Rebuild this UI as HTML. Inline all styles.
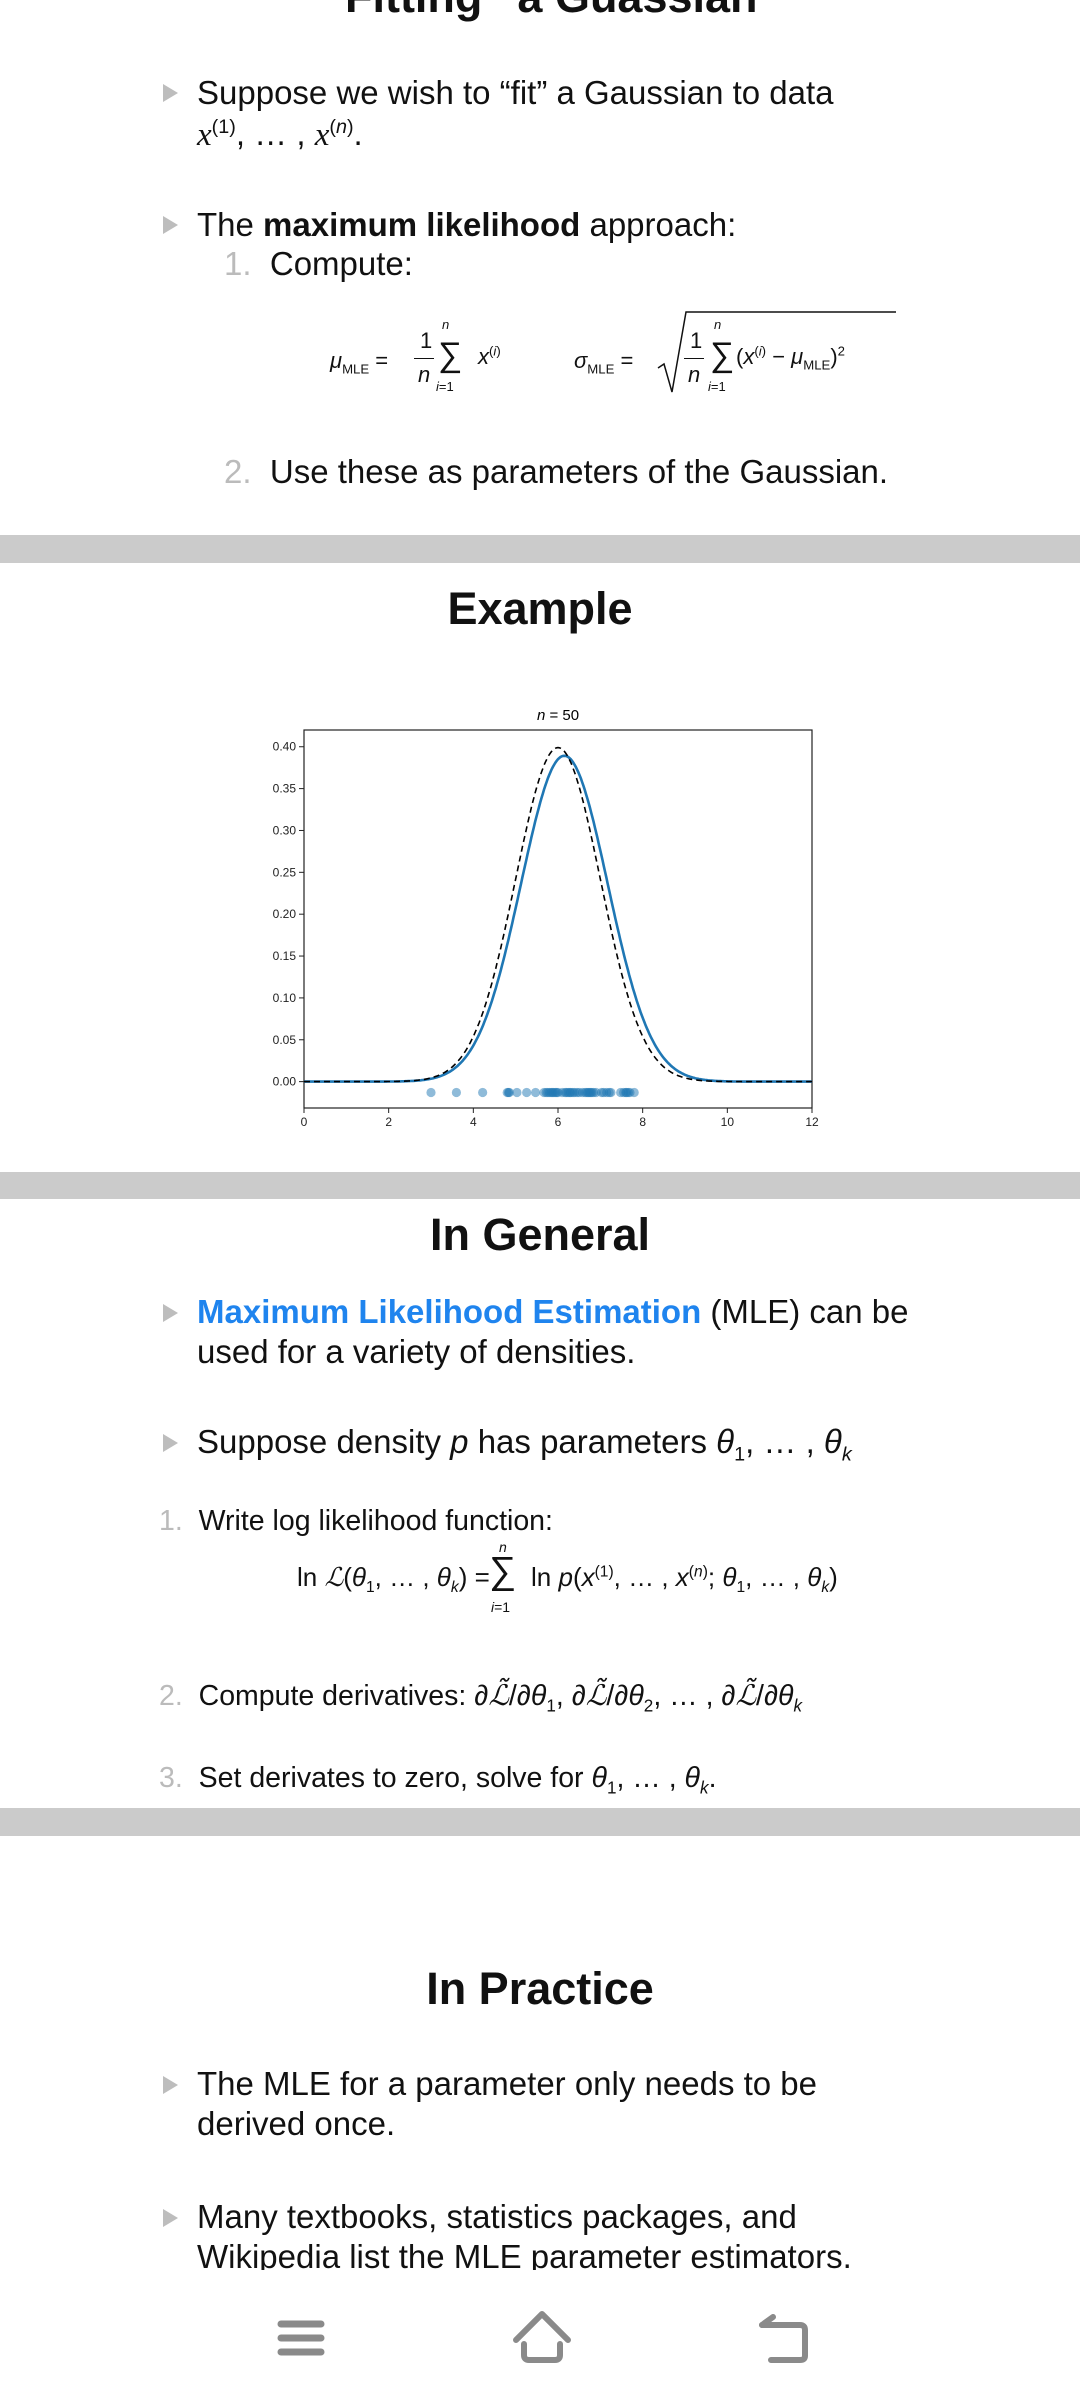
<!DOCTYPE html>
<html><head><meta charset="utf-8">
<style>
html,body{margin:0;padding:0;background:#fff;}
body{width:1080px;height:2400px;position:relative;overflow:hidden;font-family:"Liberation Sans",sans-serif;color:#111;}
.t{position:absolute;white-space:nowrap;line-height:1;}
.b{font-size:33px;}
.s{font-size:28.5px;}
.tri{position:absolute;width:0;height:0;border-top:9px solid transparent;border-bottom:9px solid transparent;border-left:15px solid #bdbdbd;}
.num{color:#bbb;}
.band{position:absolute;left:0;width:1080px;background:#cbcbcb;}
.h{font-weight:bold;font-size:45px;left:0;width:1080px;text-align:center;}
.m{font-family:"Liberation Serif",serif;font-style:italic;}
sup,sub{font-size:60%;line-height:0;}
</style></head><body>

<div class="t h" style="top:-26px;">“Fitting” a Guassian</div>

<div class="tri" style="left:163px;top:84px;"></div>
<div class="t b" style="left:197px;top:76px;">Suppose we wish to “fit” a Gaussian to data</div>
<div class="t b" style="left:197px;top:117px;"><span class="m">x</span><sup>(1)</sup>, … , <span class="m">x</span><sup>(<i>n</i>)</sup>.</div>

<div class="tri" style="left:163px;top:216px;"></div>
<div class="t b" style="left:197px;top:208px;">The <b>maximum likelihood</b> approach:</div>
<div class="t b" style="left:224px;top:247px;"><span class="num">1.</span>&nbsp; Compute:</div>

<div class="t" style="left:330px;top:320px;font-size:22px;height:90px;">
 <span style="position:absolute;left:0;top:30px;"><i>μ</i><sub>MLE</sub> = </span>
 <span style="position:absolute;left:90px;top:10px;">1</span>
 <span style="position:absolute;left:84px;top:38px;width:20px;border-top:1.5px solid #111;"></span>
 <span style="position:absolute;left:88px;top:44px;"><i>n</i></span>
 <span style="position:absolute;left:112px;top:-2px;font-size:13px;"><i>n</i></span>
 <span style="position:absolute;left:108px;top:18px;font-size:34px;">∑</span>
 <span style="position:absolute;left:106px;top:60px;font-size:13px;"><i>i</i>=1</span>
 <span style="position:absolute;left:148px;top:26px;"><i>x</i><sup>(<i>i</i>)</sup></span>
</div>
<div class="t" style="left:574px;top:320px;font-size:22px;height:90px;">
 <span style="position:absolute;left:0;top:30px;"><i>σ</i><sub>MLE</sub> = </span>
 <svg style="position:absolute;left:82px;top:-12px;" width="240" height="90"><path d="M2 60 L8 56 L16 84 L30 4 L240 4" fill="none" stroke="#111" stroke-width="1.5"/></svg>
 <span style="position:absolute;left:116px;top:10px;">1</span>
 <span style="position:absolute;left:110px;top:38px;width:20px;border-top:1.5px solid #111;"></span>
 <span style="position:absolute;left:114px;top:44px;"><i>n</i></span>
 <span style="position:absolute;left:140px;top:-2px;font-size:13px;"><i>n</i></span>
 <span style="position:absolute;left:136px;top:18px;font-size:34px;">∑</span>
 <span style="position:absolute;left:134px;top:60px;font-size:13px;"><i>i</i>=1</span>
 <span style="position:absolute;left:162px;top:26px;">(<i>x</i><sup>(<i>i</i>)</sup> − <i>μ</i><sub>MLE</sub>)<sup>2</sup></span>
</div>

<div class="t b" style="left:224px;top:455px;"><span class="num">2.</span>&nbsp; Use these as parameters of the Gaussian.</div>

<div class="band" style="top:535px;height:28px;"></div>

<div class="t h" style="top:586px;">Example</div>

<svg id="chart" style="position:absolute;left:0;top:0;" width="1080" height="1160"></svg>

<div class="band" style="top:1172px;height:27px;"></div>

<div class="t h" style="top:1212px;">In General</div>

<div class="tri" style="left:163px;top:1304px;"></div>
<div class="t b" style="left:197px;top:1295px;"><b style="color:#1f84ee;">Maximum Likelihood Estimation</b> (MLE) can be</div>
<div class="t b" style="left:197px;top:1335px;">used for a variety of densities.</div>

<div class="tri" style="left:163px;top:1434px;"></div>
<div class="t b" style="left:197px;top:1425px;">Suppose density <i>p</i> has parameters <i>θ</i><sub>1</sub>, … , <i>θ</i><sub><i>k</i></sub></div>

<div class="t s" style="left:159px;top:1507px;"><span class="num">1.</span>&nbsp; Write log likelihood function:</div>
<div class="t" style="left:297px;top:1540px;font-size:26px;height:80px;">
 <span style="position:absolute;left:0;top:24px;">ln <i>ℒ</i>(<i>θ</i><sub>1</sub>, … , <i>θ</i><sub><i>k</i></sub>) =</span>
 <span style="position:absolute;left:202px;top:0px;font-size:14px;"><i>n</i></span>
 <span style="position:absolute;left:192px;top:12px;font-size:38px;">∑</span>
 <span style="position:absolute;left:194px;top:60px;font-size:14px;"><i>i</i>=1</span>
 <span style="position:absolute;left:234px;top:24px;">ln <i>p</i>(<i>x</i><sup>(1)</sup>, … , <i>x</i><sup>(<i>n</i>)</sup>; <i>θ</i><sub>1</sub>, … , <i>θ</i><sub><i>k</i></sub>)</span>
</div>
<div class="t s" style="left:159px;top:1682px;"><span class="num">2.</span>&nbsp; Compute derivatives: ∂<i>ℒ̃</i>/∂<i>θ</i><sub>1</sub>, ∂<i>ℒ̃</i>/∂<i>θ</i><sub>2</sub>, … , ∂<i>ℒ̃</i>/∂<i>θ</i><sub><i>k</i></sub></div>
<div class="t s" style="left:159px;top:1764px;"><span class="num">3.</span>&nbsp; Set derivates to zero, solve for <i>θ</i><sub>1</sub>, … , <i>θ</i><sub><i>k</i></sub>.</div>

<div class="band" style="top:1808px;height:28px;"></div>

<div class="t h" style="top:1966px;">In Practice</div>

<div class="tri" style="left:163px;top:2076px;"></div>
<div class="t b" style="left:197px;top:2067px;">The MLE for a parameter only needs to be</div>
<div class="t b" style="left:197px;top:2107px;">derived once.</div>

<div class="tri" style="left:163px;top:2209px;"></div>
<div class="t b" style="left:197px;top:2200px;">Many textbooks, statistics packages, and</div>
<div class="t b" style="left:197px;top:2240px;">Wikipedia list the MLE parameter estimators.</div>

<div style="position:absolute;left:0;top:2270px;width:1080px;height:130px;background:#fff;"></div>
<svg style="position:absolute;left:0;top:2290px;" width="1080" height="90">
 <g stroke="#8a8a8a" stroke-width="7" stroke-linecap="round" fill="none">
  <line x1="281" y1="34" x2="321" y2="34"/><line x1="281" y1="48" x2="321" y2="48"/><line x1="281" y1="62" x2="321" y2="62"/>
 </g>
 <g stroke="#8a8a8a" stroke-width="6" stroke-linecap="round" stroke-linejoin="round" fill="none">
  <path d="M516 50 L542 24 L568 50"/><path d="M524 54 L524 65 Q524 70 529 70 L555 70 Q560 70 560 65 L560 54"/>
 </g>
 <g stroke="#8a8a8a" stroke-width="6" stroke-linecap="round" stroke-linejoin="round" fill="none">
  <path d="M762 35 L800 35 Q805 35 805 40 L805 66 Q805 70 800 70 L771 70"/><path d="M773 27 L762 35"/>
 </g>
</svg>

<script>
const xTicks=[0,2,4,6,8,10,12];
const yTicks=[0.00,0.05,0.10,0.15,0.20,0.25,0.30,0.35,0.40];
const yTickLabels=["0.00","0.05","0.10","0.15","0.20","0.25","0.30","0.35","0.40"];
const fitMean=[6.15];
const fitSigma=[1.025];
const trueMean=[6.0];
const trueSigma=[1.0];
const samples=[3.0,3.6,4.22,4.8,4.83,4.85,5.03,5.26,5.47,5.67,5.72,5.76,5.8,5.84,5.87,5.9,5.94,5.97,6.0,6.17,6.2,6.24,6.28,6.3,6.35,6.39,6.45,6.5,6.58,6.64,6.68,6.71,6.74,6.77,6.8,6.84,7.03,7.08,7.15,7.21,7.25,7.48,7.55,7.6,7.62,7.66,7.7,7.8,6.9,6.1];
const X0=304,X1=812,YT=730,YB=1108;
const xMin=0,xMax=12,yMin=-0.0315,yMax=0.42;
const sx=v=>X0+(v-xMin)/(xMax-xMin)*(X1-X0);
const sy=v=>YB-(v-yMin)/(yMax-yMin)*(YB-YT);
const NS='http://www.w3.org/2000/svg';
const svg=document.getElementById('chart');
function mk(tag,attrs){const e=document.createElementNS(NS,tag);for(const k in attrs)e.setAttribute(k,attrs[k]);svg.appendChild(e);return e;}
function gauss(x,m,s){return Math.exp(-0.5*((x-m)/s)**2)/(s*Math.sqrt(2*Math.PI));}
function curve(m,s){let d='';for(let i=0;i<=400;i++){const x=xMin+(xMax-xMin)*i/400;d+=(i?'L':'M')+sx(x).toFixed(1)+' '+sy(gauss(x,m,s)).toFixed(1);}return d;}
const ttl=mk('text',{x:(X0+X1)/2,y:720,'text-anchor':'middle','font-size':'15','font-family':'Liberation Sans, sans-serif'});


ttl.innerHTML='<tspan font-style="italic">n</tspan> = 50';
const fr=mk('rect',{x:X0,y:YT,width:X1-X0,height:YB-YT,fill:'none',stroke:'#222','stroke-width':'1.2'});


xTicks.forEach(v=>{
 const l=mk('line',{x1:sx(v),x2:sx(v),y1:YB,y2:YB+5,stroke:'#222','stroke-width':'1'});
 
 
 const t=mk('text',{x:sx(v),y:YB+18,'text-anchor':'middle','font-size':'12','font-family':'Liberation Sans, sans-serif',fill:'#222'});
 
 
 t.textContent=v;
});
yTicks.forEach((v,i)=>{
 const l=mk('line',{x1:X0-5,x2:X0,y1:sy(v),y2:sy(v),stroke:'#222','stroke-width':'1'});
 
 
 const t=mk('text',{x:X0-8,y:sy(v)+4,'text-anchor':'end','font-size':'12','font-family':'Liberation Sans, sans-serif',fill:'#222'});
 
 
 t.textContent=yTickLabels[i];
});
samples.forEach(v=>{
 const c=mk('circle',{cx:sx(v),cy:sy(-0.013),r:4.6,fill:'#1f77b4','fill-opacity':'0.5'});
 
 
});
const fit=mk('path',{d:curve(fitMean[0],fitSigma[0]),fill:'none',stroke:'#1f77b4','stroke-width':'2.6'});


const tru=mk('path',{d:curve(trueMean[0],trueSigma[0]),fill:'none',stroke:'#000','stroke-width':'1.6','stroke-dasharray':'6 4'});


</script>
</body></html>
